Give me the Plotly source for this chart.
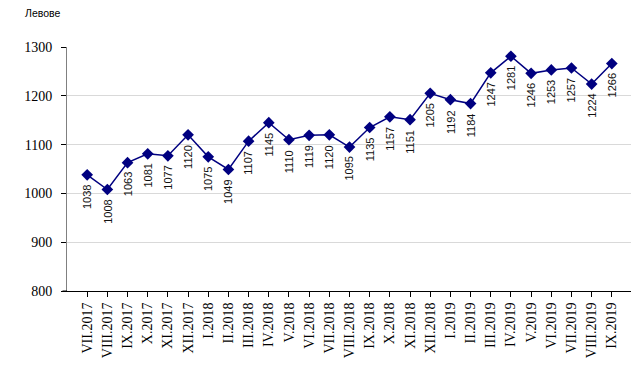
import plotly.graph_objects as go

categories = ["VII.2017", "VIII.2017", "IX.2017", "X.2017", "XI.2017", "XII.2017",
              "I.2018", "II.2018", "III.2018", "IV.2018", "V.2018", "VI.2018",
              "VII.2018", "VIII.2018", "IX.2018", "X.2018", "XI.2018", "XII.2018",
              "I.2019", "II.2019", "III.2019", "IV.2019", "V.2019", "VI.2019",
              "VII.2019", "VIII.2019", "IX.2019"]
values = [1038, 1008, 1063, 1081, 1077, 1120, 1075, 1049, 1107, 1145, 1110, 1119,
          1120, 1095, 1135, 1157, 1151, 1205, 1192, 1184, 1247, 1281, 1246, 1253,
          1257, 1224, 1266]
y_ticks = [800, 900, 1000, 1100, 1200, 1300]
unit_label = "Левове"

idx = list(range(len(categories)))

W, H = 631, 369

fig = go.Figure()
fig.add_trace(go.Scatter(
    x=idx, y=values, mode="lines+markers",
    line=dict(color="#000080", width=1.5),
    marker=dict(symbol="diamond", size=9, color="#000080"),
    hoverinfo="skip", showlegend=False,
))

annotations = []
for i, v in zip(idx, values):
    annotations.append(dict(
        x=i, y=v, xref="x", yref="y", text=str(v), showarrow=False,
        textangle=-90, xanchor="center", yanchor="top", yshift=-8,
        font=dict(family="Liberation Sans, Arial", size=11, color="#111111"),
    ))

fig.update_layout(
    width=W, height=H,
    margin=dict(l=59, r=7, t=39, b=86, autoexpand=False),
    paper_bgcolor="white", plot_bgcolor="white",
    annotations=annotations,
    title=dict(text=unit_label, xref="container", yref="container",
               x=17 / W, xanchor="left", y=1 - 5 / H, yanchor="middle",
               font=dict(family="Liberation Sans, Arial", size=10.5, color="#000000")),
    shapes=[dict(type="line", xref="paper", yref="paper", x0=-0.008, x1=0, y0=0, y1=0,
                 line=dict(color="#000000", width=1))],
)
fig.update_xaxes(
    range=[-1, len(categories)],
    tickmode="array", tickvals=idx + [len(categories)], ticktext=categories + [""],
    tickangle=-90, showgrid=False, zeroline=False,
    showline=True, linecolor="#000000", linewidth=1,
    ticks="outside", ticklen=5, tickcolor="#000000", tickwidth=1,
    tickfont=dict(family="Liberation Serif, Times New Roman", size=14, color="#000000"),
)
fig.update_yaxes(
    range=[800, 1300], tickmode="array", tickvals=y_ticks,
    showgrid=True, gridcolor="#d9d9d9", gridwidth=1, zeroline=False,
    showline=True, linecolor="#808080", linewidth=1,
    ticks="outside", ticklen=5, tickcolor="#000000", tickwidth=1, ticklabelstandoff=6,
    tickfont=dict(family="Liberation Serif, Times New Roman", size=14, color="#000000"),
)

fig.write_html("out.html")
